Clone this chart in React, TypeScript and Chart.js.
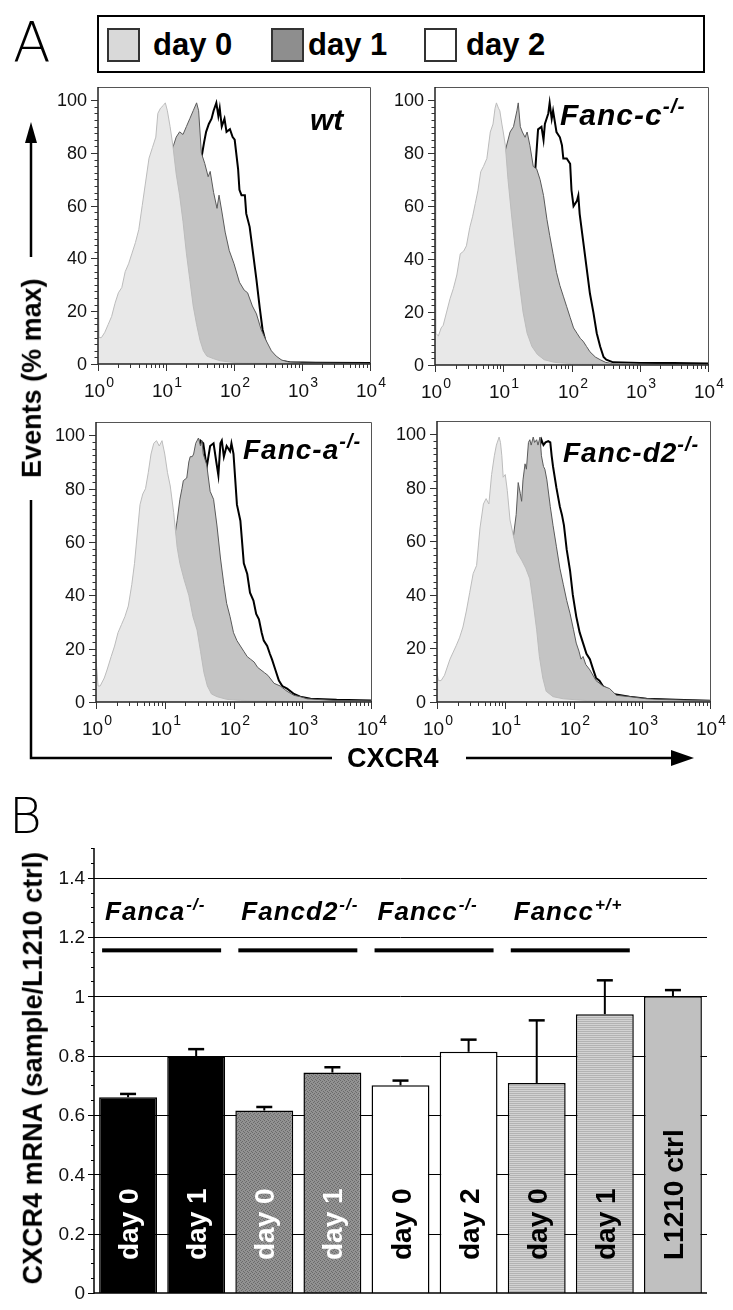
import React, { useEffect, useRef } from "react";
import { Chart, registerables } from "chart.js";
Chart.register(...registerables);

const FONT = '"Liberation Sans", Arial, Helvetica, sans-serif';
const NARROW = '"Liberation Sans Narrow", "Liberation Sans", Arial, sans-serif';

// ---------- Panel A: histograms, points are [log10(CXCR4), events % max] ----------
const wtDay0 = [[0,47],[0.015,10],[0.05,10],[0.1,12],[0.15,15],[0.2,18],[0.25,23],[0.3,27],[0.35,29],[0.4,35],[0.45,38],[0.5,42],[0.55,46],[0.6,51],[0.65,60],[0.7,69],[0.75,78],[0.8,82],[0.85,86],[0.88,95],[0.92,97],[0.96,98],[0.99,99],[1.02,96],[1.06,90],[1.1,83],[1.15,72],[1.2,64],[1.25,54],[1.3,42],[1.35,32],[1.4,22],[1.45,15],[1.5,9],[1.55,5],[1.6,3],[1.7,2],[1.8,1.2],[2.0,0.6],[2.4,0.3],[4,0]];
const wtDay1 = [[0,0],[0.3,0.5],[0.5,3],[0.7,12],[0.85,35],[1.0,62],[1.08,79],[1.1,82],[1.15,86],[1.2,88],[1.25,87],[1.3,90],[1.35,93],[1.4,96],[1.45,99],[1.48,96],[1.52,80],[1.57,76],[1.62,71],[1.65,73],[1.7,65],[1.75,59],[1.78,64],[1.82,58],[1.87,50],[1.93,43],[2.0,38],[2.08,31],[2.15,28],[2.2,27],[2.27,22],[2.33,19],[2.4,13],[2.47,9],[2.55,5],[2.62,3],[2.7,1.5],[2.8,0.8],[3.0,0.4],[4,0.2]];
const wtDay2 = [[0,0],[0.8,1],[1.0,8],[1.2,30],[1.4,58],[1.52,78],[1.56,84],[1.59,88],[1.63,91],[1.67,93],[1.7,96],[1.74,99],[1.77,94],[1.79,97],[1.82,90],[1.86,93],[1.89,88],[1.94,89],[1.98,86],[2.01,85],[2.06,74],[2.08,66],[2.11,64],[2.16,64],[2.18,57],[2.23,52],[2.28,42],[2.33,32],[2.38,21],[2.42,13],[2.47,8],[2.52,4],[2.57,3],[2.62,2],[2.72,1],[2.82,0.7],[3.2,0.5],[4,0.4]];

const fcDay0 = [[0,66],[0.01,12],[0.05,11],[0.09,14],[0.12,15],[0.17,20],[0.22,25],[0.27,29],[0.32,34],[0.37,42],[0.42,43],[0.46,45],[0.51,52],[0.55,56],[0.59,61],[0.63,66],[0.67,73],[0.71,75],[0.76,78],[0.81,88],[0.85,91],[0.88,97],[0.9,99],[0.93,97],[0.95,96],[0.98,91],[1.0,88],[1.03,83],[1.07,70],[1.12,57],[1.17,45],[1.23,32],[1.29,20],[1.35,12],[1.42,7],[1.5,4],[1.6,2],[1.75,1],[2.0,0.5],[4,0]];
const fcDay1 = [[0,0],[0.4,1],[0.6,5],[0.8,25],[0.95,62],[1.03,81],[1.07,85],[1.1,88],[1.15,90],[1.2,96],[1.22,99],[1.25,90],[1.28,88],[1.32,86],[1.35,88],[1.39,83],[1.44,75],[1.49,74],[1.54,70],[1.59,64],[1.64,55],[1.68,49],[1.73,42],[1.78,35],[1.83,30],[1.88,26],[1.93,22],[1.98,18],[2.03,14],[2.08,12],[2.13,10],[2.17,9],[2.22,7],[2.27,5],[2.35,3],[2.42,2],[2.5,1],[2.6,0.5],[3,0.3],[4,0.2]];
const fcDay2 = [[0,0],[0.9,1],[1.1,10],[1.3,45],[1.42,68],[1.47,74],[1.51,89],[1.56,90],[1.59,85],[1.61,91],[1.66,95],[1.68,99],[1.71,93],[1.73,96],[1.78,88],[1.83,86],[1.86,83],[1.88,78],[1.93,78],[1.98,76],[2.0,66],[2.03,60],[2.08,62],[2.1,64],[2.12,57],[2.17,47],[2.22,37],[2.27,27],[2.32,20],[2.37,12],[2.42,7],[2.47,3],[2.51,2],[2.61,1],[3.0,0.8],[3.5,0.8],[4,0.6]];

const faDay0 = [[0,16],[0.01,16],[0.03,6],[0.06,6],[0.12,9],[0.16,12],[0.22,17],[0.27,21],[0.32,26],[0.37,29],[0.42,32],[0.47,36],[0.52,44],[0.56,52],[0.6,63],[0.64,74],[0.68,78],[0.72,80],[0.76,86],[0.8,93],[0.84,97],[0.88,98],[0.92,96],[0.96,98],[1.0,93],[1.04,86],[1.08,81],[1.13,71],[1.18,58],[1.22,52],[1.28,46],[1.35,40],[1.41,32],[1.47,27],[1.52,19],[1.57,11],[1.62,6],[1.68,3],[1.76,2],[1.9,1],[2.1,0.6],[2.5,0.3],[4,0]];
const faDay1 = [[0,0],[0.5,1],[0.8,8],[1.0,35],[1.1,55],[1.15,63],[1.18,68],[1.22,76],[1.25,80],[1.27,83],[1.32,84],[1.35,90],[1.37,92],[1.4,92],[1.42,93],[1.45,97],[1.49,99],[1.52,96],[1.54,98],[1.56,93],[1.61,89],[1.66,79],[1.71,76],[1.76,66],[1.81,54],[1.86,44],[1.9,37],[1.95,32],[2.0,26],[2.05,23],[2.1,21],[2.15,19],[2.2,17],[2.25,16],[2.3,15],[2.35,13],[2.4,12],[2.45,11],[2.5,10],[2.59,7],[2.68,6],[2.78,4],[2.88,2.5],[2.97,2],[3.07,1.2],[3.46,0.6],[4,0.4]];
const faDay2 = [[0,0],[0.9,1],[1.1,10],[1.3,50],[1.45,88],[1.52,98],[1.56,97],[1.61,88],[1.66,96],[1.71,97],[1.75,90],[1.78,85],[1.81,97],[1.83,98],[1.86,92],[1.9,96],[1.95,94],[1.97,97],[2.0,93],[2.05,74],[2.1,68],[2.15,52],[2.2,48],[2.24,41],[2.29,38],[2.33,33],[2.37,31],[2.41,26],[2.44,23],[2.49,21],[2.53,18],[2.56,16],[2.61,12],[2.66,8],[2.71,6],[2.78,5],[2.88,3],[2.97,2],[3.12,1.2],[3.5,0.8],[4,0.6]];

const fdDay0 = [[0,11],[0.02,8],[0.06,8],[0.11,10],[0.19,16],[0.28,21],[0.33,24],[0.38,28],[0.43,34],[0.48,41],[0.53,48],[0.58,51],[0.63,65],[0.68,74],[0.72,76],[0.76,74],[0.8,85],[0.84,92],[0.87,96],[0.91,99],[0.93,97],[0.95,92],[0.97,84],[1.0,85],[1.03,79],[1.07,68],[1.12,62],[1.17,56],[1.24,53],[1.3,50],[1.36,46],[1.41,37],[1.46,27],[1.5,17],[1.55,9],[1.6,4],[1.7,2],[1.85,1.2],[2.2,0.5],[4,0.2]];
const fdDay1 = [[0,0],[0.5,1],[0.8,8],[1.0,35],[1.12,62],[1.16,70],[1.19,82],[1.22,78],[1.24,75],[1.26,83],[1.29,89],[1.31,87],[1.34,97],[1.36,98],[1.38,96],[1.41,99],[1.43,97],[1.46,98],[1.48,96],[1.51,99],[1.53,92],[1.56,88],[1.58,87],[1.61,83],[1.66,73],[1.7,66],[1.75,58],[1.8,50],[1.85,44],[1.9,38],[1.95,33],[2.0,27],[2.04,22],[2.08,19],[2.11,16],[2.14,17],[2.18,14],[2.24,12],[2.33,8],[2.43,6],[2.53,5],[2.63,2.5],[2.82,2],[3.07,1.2],[3.31,0.9],[3.8,0.6],[4,0.5]];
const fdDay2 = [[0,0],[0.8,2],[1.0,15],[1.2,50],[1.4,85],[1.51,96],[1.53,98],[1.56,96],[1.59,97],[1.63,97.5],[1.66,97],[1.68,92],[1.7,88],[1.75,80],[1.8,73],[1.83,70],[1.86,66],[1.9,57],[1.95,49],[1.99,40],[2.04,32],[2.09,26],[2.14,22],[2.19,18],[2.24,16],[2.29,12],[2.33,9],[2.38,8],[2.43,6],[2.48,5],[2.58,3],[2.82,2],[3.07,1.2],[3.5,0.8],[4,0.5]];

const histYTicks = [0, 20, 40, 60, 80, 100];
const histXExponents = [0, 1, 2, 3, 4];
const legendLabels = ["day 0", "day 1", "day 2"];

// ---------- Panel B: CXCR4 mRNA bars ----------
const barLabels = ["day 0", "day 1", "day 0", "day 1", "day 0", "day 2", "day 0", "day 1", "L1210 ctrl"];
const barMeans = [0.66, 0.797, 0.615, 0.743, 0.70, 0.813, 0.708, 0.94, 1.0];
const barErrors = [0.011, 0.025, 0.012, 0.018, 0.016, 0.041, 0.211, 0.114, 0.021];
const groupNames = ["Fanca", "Fancd2", "Fancc", "Fancc"];
const groupSups = ["-/-", "-/-", "-/-", "+/+"];
const bTickValues = [0, 0.2, 0.4, 0.6, 0.8, 1.0, 1.2, 1.4];
const bTickLabels = ["0", "0.2", "0.4", "0.6", "0.8", "1", "1.2", "1.4"];

const barTextColors = ["#fff", "#fff", "#fff", "#fff", "#000", "#000", "#000", "#000", "#000"];

function makePattern(kind: string): CanvasPattern | string {
  const c = document.createElement("canvas");
  c.width = 4; c.height = 4;
  const g = c.getContext("2d");
  if (!g) return "#999";
  if (kind === "stipple") {
    g.fillStyle = "#929292"; g.fillRect(0, 0, 4, 4);
    g.fillStyle = "#6a6a6a";
    g.fillRect(0, 0, 1, 1); g.fillRect(2, 1, 1, 1); g.fillRect(1, 2, 1, 1); g.fillRect(3, 3, 1, 1);
  } else {
    g.fillStyle = "#d3d3d3"; g.fillRect(0, 0, 4, 4);
    g.fillStyle = "#b3b3b3"; g.fillRect(0, 1, 4, 1); g.fillRect(0, 3, 4, 1);
  }
  return g.createPattern(c, "repeat") || "#999";
}

function hline(ctx: CanvasRenderingContext2D, x1: number, y1: number, x2: number, y2: number) {
  ctx.beginPath(); ctx.moveTo(x1, y1); ctx.lineTo(x2, y2); ctx.stroke();
}

const histAxes = {
  id: "histAxes",
  afterDraw(chart: any) {
    const { ctx, chartArea: a, scales } = chart;
    const x = scales.x, y = scales.y;
    ctx.save();
    ctx.strokeStyle = "#555"; ctx.lineWidth = 1;
    ctx.beginPath();
    ctx.moveTo(a.left, a.top + 0.5); ctx.lineTo(a.right + 0.5, a.top + 0.5); ctx.lineTo(a.right + 0.5, a.bottom);
    ctx.stroke();
    ctx.strokeStyle = "#222"; ctx.lineWidth = 1.5;
    ctx.beginPath(); ctx.moveTo(a.left, a.top); ctx.lineTo(a.left, a.bottom); ctx.lineTo(a.right + 1, a.bottom); ctx.stroke();
    ctx.lineWidth = 1; ctx.strokeStyle = "#333";
    for (let v = 0; v <= 100.01; v += 2.5) {
      const py = Math.round(y.getPixelForValue(v)) + 0.5;
      const major = histYTicks.indexOf(v) >= 0;
      hline(ctx, a.left - (major ? 7 : 3.5), py, a.left, py);
    }
    ctx.fillStyle = "#111"; ctx.font = `18px ${FONT}`; ctx.textAlign = "right"; ctx.textBaseline = "middle";
    histYTicks.forEach((v) => ctx.fillText(String(v), a.left - 11, y.getPixelForValue(v) + 1));
    histXExponents.forEach((e, k) => {
      const dec = Math.pow(10, e);
      const px = Math.round(x.getPixelForValue(dec)) + 0.5;
      hline(ctx, px, a.bottom, px, a.bottom + 7);
      if (k < histXExponents.length - 1) {
        for (let m = 2; m <= 9; m++) {
          const mx = Math.round(x.getPixelForValue(m * dec)) + 0.5;
          hline(ctx, mx, a.bottom, mx, a.bottom + 4);
        }
      }
      ctx.textAlign = "left"; ctx.textBaseline = "alphabetic";
      ctx.font = `19px ${FONT}`;
      const w1 = ctx.measureText("10").width;
      ctx.font = `14px ${FONT}`;
      const w2 = ctx.measureText(String(e)).width;
      const sx = px - (w1 + w2) / 2;
      ctx.font = `19px ${FONT}`;
      ctx.fillText("10", sx, a.bottom + 33);
      ctx.font = `14px ${FONT}`;
      ctx.fillText(String(e), sx + w1 + 1, a.bottom + 23);
    });
    ctx.restore();
  },
};

type Area = { left: number; top: number; width: number; height: number };

function Hist({ area, day0, day1, day2 }: { area: Area; day0: number[][]; day1: number[][]; day2: number[][] }) {
  const ref = useRef<HTMLCanvasElement>(null);
  const PL = 62, PT = 8, PR = 22, PB = 44;
  useEffect(() => {
    const mk = (pts: number[][], fill: string, stroke: string, w: number) => ({
      data: pts.map(([d, v]) => ({ x: Math.pow(10, d), y: v })),
      fill: "origin",
      backgroundColor: fill,
      borderColor: stroke,
      borderWidth: w,
      pointRadius: 0,
      tension: 0,
    });
    const chart = new Chart(ref.current as HTMLCanvasElement, {
      type: "line",
      data: {
        datasets: [
          mk(day0, "#e8e8e8", "#bcbcbc", 1),
          mk(day1, "#c4c4c4", "#5a5a5a", 1),
          mk(day2, "#ffffff", "#000000", 2),
        ] as any,
      },
      options: {
        animation: false,
        responsive: false,
        maintainAspectRatio: false,
        devicePixelRatio: 1,
        layout: { padding: { left: PL, top: PT, right: PR, bottom: PB } },
        plugins: { legend: { display: false }, tooltip: { enabled: false } },
        elements: { point: { radius: 0 }, line: { tension: 0 } },
        scales: {
          x: { type: "logarithmic", min: 1, max: 10000, display: false },
          y: { type: "linear", min: 0, max: 105, display: false },
        },
      } as any,
      plugins: [histAxes],
    });
    return () => chart.destroy();
  }, []);
  const W = area.width + PL + PR, H = area.height + PT + PB;
  return (
    <canvas
      ref={ref}
      width={W}
      height={H}
      style={{ position: "absolute", left: area.left - PL, top: area.top - PT, width: W, height: H }}
    />
  );
}

const groupLineValue = 1.155;
const groupLabelValue = 1.258;

const barDeco = {
  id: "barDeco",
  beforeDatasetsDraw(chart: any) {
    const { ctx, chartArea: a, scales } = chart;
    const y = scales.y;
    ctx.save();
    ctx.strokeStyle = "#000"; ctx.lineWidth = 1;
    bTickValues.forEach((v) => {
      if (v === 0) return;
      const py = Math.round(y.getPixelForValue(v)) + 0.5;
      hline(ctx, a.left, py, a.right, py);
    });
    ctx.restore();
  },
  afterDatasetsDraw(chart: any) {
    const { ctx, chartArea: a, scales } = chart;
    const x = scales.x, y = scales.y;
    const meta = chart.getDatasetMeta(0);
    ctx.save();
    ctx.strokeStyle = "#000";
    barMeans.forEach((m, i) => {
      const cx = x.getPixelForValue(i);
      const y0 = y.getPixelForValue(m), y1 = y.getPixelForValue(m + barErrors[i]);
      ctx.lineWidth = 2;
      hline(ctx, cx, y0, cx, y1);
      ctx.lineWidth = 2.5;
      hline(ctx, cx - 8, y1, cx + 8, y1);
    });
    ctx.font = `bold 28px ${FONT}`;
    barLabels.forEach((t, i) => {
      ctx.save();
      ctx.translate(x.getPixelForValue(i), y.getPixelForValue(0) - 33);
      ctx.rotate(-Math.PI / 2);
      ctx.fillStyle = barTextColors[i];
      ctx.textAlign = "left"; ctx.textBaseline = "alphabetic";
      ctx.fillText(t, 0, 10);
      ctx.restore();
    });
    const half = meta.data[0].width / 2;
    ctx.fillStyle = "#000";
    groupNames.forEach((g, k) => {
      const l = x.getPixelForValue(2 * k) - half;
      const r = x.getPixelForValue(2 * k + 1) + half;
      ctx.fillRect(l + 3, y.getPixelForValue(groupLineValue) - 2, r - l - 7, 4);
      const by = y.getPixelForValue(groupLabelValue);
      ctx.textAlign = "left"; ctx.textBaseline = "alphabetic";
      (ctx as any).letterSpacing = "1px";
      ctx.font = `italic bold 26px ${FONT}`;
      ctx.fillText(g, l + 6, by);
      const w = ctx.measureText(g).width;
      ctx.font = `italic bold 17px ${FONT}`;
      ctx.fillText(groupSups[k], l + 6 + w + 1, by - 10);
      (ctx as any).letterSpacing = "0px";
    });
    ctx.strokeStyle = "#000"; ctx.lineWidth = 1.5;
    hline(ctx, a.left, a.top, a.left, a.bottom + 0.75);
    hline(ctx, a.left, a.bottom, a.right, a.bottom);
    ctx.lineWidth = 1;
    for (let k = 0; k <= 30; k++) {
      const v = k * 0.05;
      const py = Math.round(y.getPixelForValue(v)) + 0.5;
      const major = k % 4 === 0;
      hline(ctx, a.left - (major ? 6 : 3), py, a.left, py);
    }
    ctx.fillStyle = "#111"; ctx.font = `19px ${NARROW}`; ctx.textAlign = "right"; ctx.textBaseline = "middle";
    bTickValues.forEach((v, i) => ctx.fillText(bTickLabels[i], a.left - 9, y.getPixelForValue(v) + 1));
    ctx.restore();
  },
};

function BarPanel() {
  const ref = useRef<HTMLCanvasElement>(null);
  const W = 733, H = 530, TOP = 780;
  useEffect(() => {
    const stipple = makePattern("stipple");
    const stripe = makePattern("stripe");
    const fills = ["#000", "#000", stipple, stipple, "#fff", "#fff", stripe, stripe, "#c0c0c0"];
    const chart = new Chart(ref.current as HTMLCanvasElement, {
      type: "bar",
      data: {
        labels: barLabels,
        datasets: [
          {
            data: barMeans,
            backgroundColor: fills as any,
            borderColor: "#000",
            borderWidth: 1.5,
            barPercentage: 0.85,
            categoryPercentage: 1.0,
          },
        ],
      },
      options: {
        animation: false,
        responsive: false,
        maintainAspectRatio: false,
        devicePixelRatio: 1,
        layout: { padding: { left: 94, top: 848 - TOP, right: W - 707, bottom: TOP + H - 1293 } },
        plugins: { legend: { display: false }, tooltip: { enabled: false } },
        scales: {
          x: { type: "category", display: false },
          y: { type: "linear", min: 0, max: 1.5, display: false },
        },
      } as any,
      plugins: [barDeco],
    });
    return () => chart.destroy();
  }, []);
  return (
    <canvas ref={ref} width={W} height={H} style={{ position: "absolute", left: 0, top: TOP, width: W, height: H }} />
  );
}

function Label({ left, baseline, size, children, italic }: any) {
  return (
    <div
      style={{
        position: "absolute",
        left,
        top: baseline - 0.8465 * size,
        fontSize: size,
        lineHeight: `${size}px`,
        fontWeight: "bold",
        fontStyle: italic ? "italic" : "normal",
        whiteSpace: "nowrap",
        fontFamily: FONT,
      }}
    >
      {children}
    </div>
  );
}

function Sup({ children, size = 21, rise = 12 }: any) {
  return (
    <span style={{ fontSize: size, lineHeight: 1, position: "relative", top: -rise, letterSpacing: 1 }}>{children}</span>
  );
}

function VText({ cx, cy, size, text }: any) {
  const lh = size * 1.2;
  return (
    <div
      style={{
        position: "absolute",
        left: cx - 300,
        top: cy - lh / 2,
        width: 600,
        height: lh,
        lineHeight: `${lh}px`,
        textAlign: "center",
        fontSize: size,
        fontWeight: "bold",
        fontFamily: FONT,
        whiteSpace: "nowrap",
        transform: "rotate(-90deg)",
      }}
    >
      {text}
    </div>
  );
}

export default function App() {
  const swatches = [
    { left: 107, bg: "#d9d9d9", text: 153 },
    { left: 271, bg: "#8e8e8e", text: 308 },
    { left: 424, bg: "#ffffff", text: 466 },
  ];
  return (
    <div style={{ position: "absolute", left: 0, top: 0, width: 733, height: 1310, background: "#fff", overflow: "hidden", fontFamily: FONT, color: "#000" }}>
      <div style={{ position: "absolute", left: 13, top: 62 - 0.846 * 55, fontSize: 55, lineHeight: "55px", fontFamily: '"DejaVu Sans", sans-serif', fontWeight: 200 }}>A</div>
      <div style={{ position: "absolute", left: 9, top: 833 - 0.846 * 50, fontSize: 50, lineHeight: "50px", fontFamily: '"DejaVu Sans", sans-serif', fontWeight: 200 }}>B</div>

      <div style={{ position: "absolute", left: 97, top: 15, width: 608, height: 58, border: "2px solid #000", boxSizing: "border-box" }} />
      {swatches.map((s, i) => (
        <React.Fragment key={i}>
          <div style={{ position: "absolute", left: s.left, top: 28, width: 33, height: 34, background: s.bg, border: "2px solid #333", boxSizing: "border-box" }} />
          <Label left={s.text} baseline={55} size={31}>{legendLabels[i]}</Label>
        </React.Fragment>
      ))}

      <Hist area={{ left: 98, top: 87, width: 272, height: 277 }} day0={wtDay0} day1={wtDay1} day2={wtDay2} />
      <Hist area={{ left: 435, top: 87, width: 273, height: 278 }} day0={fcDay0} day1={fcDay1} day2={fcDay2} />
      <Hist area={{ left: 96, top: 422, width: 275, height: 280 }} day0={faDay0} day1={faDay1} day2={faDay2} />
      <Hist area={{ left: 437, top: 421, width: 273, height: 281 }} day0={fdDay0} day1={fdDay1} day2={fdDay2} />

      <Label left={310} baseline={130} size={30} italic>wt</Label>
      <Label left={560} baseline={125} size={30} italic><span style={{ letterSpacing: 1 }}>Fanc-c</span><Sup>-/-</Sup></Label>
      <Label left={243} baseline={460} size={28} italic><span style={{ letterSpacing: 1 }}>Fanc-a</span><Sup size={20} rise={11}>-/-</Sup></Label>
      <Label left={563} baseline={463} size={28} italic><span style={{ letterSpacing: 1 }}>Fanc-d2</span><Sup size={20} rise={11}>-/-</Sup></Label>

      <VText cx={32} cy={378} size={27} text="Events (% max)" />
      <Label left={347} baseline={768} size={27}>CXCR4</Label>
      <svg width={733} height={1310} style={{ position: "absolute", left: 0, top: 0, pointerEvents: "none" }}>
        <line x1={31} y1={141} x2={31} y2={257} stroke="#000" strokeWidth={2.5} />
        <polygon points="31,122 25,143 37,143" fill="#000" />
        <polyline points="31,500 31,758 332,758" fill="none" stroke="#000" strokeWidth={2.5} />
        <line x1={466} y1={758} x2={674} y2={758} stroke="#000" strokeWidth={2.5} />
        <polygon points="694,758 671,750 671,766" fill="#000" />
      </svg>

      <BarPanel />
      <VText cx={33} cy={1068} size={27} text="CXCR4 mRNA (sample/L1210 ctrl)" />
    </div>
  );
}
